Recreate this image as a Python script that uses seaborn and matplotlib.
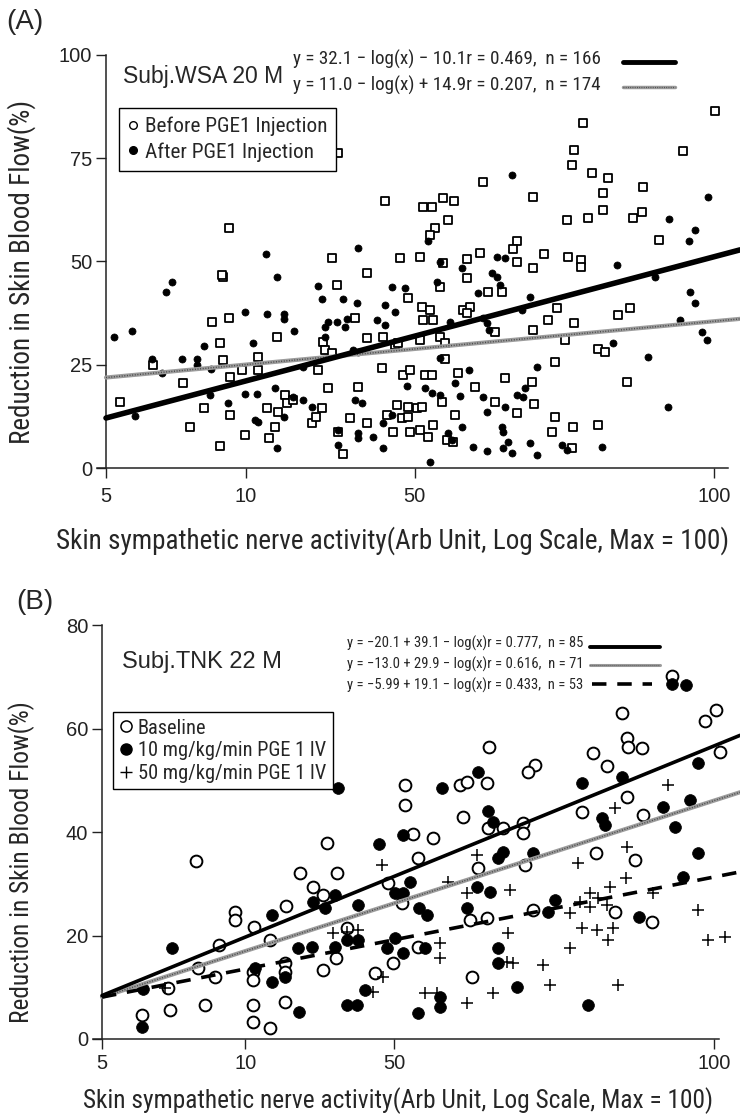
import numpy as np
import pandas as pd
import matplotlib
matplotlib.use("Agg")
import matplotlib.pyplot as plt
import seaborn as sns
from matplotlib.lines import Line2D
import matplotlib.font_manager as fm

# ---------------- data (x = position along the SSNA axis, 0 = "5", 100 = "100") ----------------
A_tick_pos = [0, 23.0, 50.8, 100]
B_tick_pos = [0, 23.4, 47.7, 100]
x_tick_labels = ["5", "10", "50", "100"]
A_y_ticks = [0, 25, 50, 75, 100]
B_y_ticks = [0, 20, 40, 60, 80]

A_after_x = [1.3,4.3,9.9,10.9,7.6,12.5,15.0,15.0,17.3,9.2,4.8,17.1,20.1,16.1,22.9,26.5,29.3,29.3,24.2,28.1,30.9,22.9,24.8,27.8,24.5,25.0,29.3,28.1,32.4,30.8,32.4,33.9,34.9,35.5,39.0,41.3,36.0,36.0,36.5,38.0,39.6,39.3,40.6,41.4,41.0,42.1,38.2,38.2,41.4,41.4,
             47.0,49.2,45.9,47.5,44.6,45.9,54.9,54.4,56.6,61.2,63.5,64.3,64.8,62.0,62.7,63.0,68.4,69.7,59.7,57.4,52.5,49.5,53.6,54.9,58.2,62.0,62.7,65.6,67.6,68.9,68.6,70.9,58.6,56.2,56.9,60.4,62.7,65.1,65.3,66.1,66.8,65.3,69.7,70.9,75.0,75.8,81.6,53.3,45.6,43.9,45.6,47.0,83.4,84.0,90.3,89.1,92.4,94.4,96.1,96.9,98.0,98.8,66.8,99.0,92.6,96.9,95.9,53.0,54.9,64.3,65.6,58.6,26.3,41.4]
A_after_y = [31.7,33.2,42.6,45.0,26.4,26.4,26.4,24.9,24.0,23.0,12.6,17.7,15.7,29.5,37.8,37.3,37.3,36.1,30.3,46.2,33.2,17.9,17.9,19.4,11.6,11.1,12.3,4.8,24.5,17.2,16.5,14.8,44.1,40.9,40.9,40.0,34.1,31.7,35.4,35.4,36.1,34.1,28.6,28.1,16.5,15.7,9.2,5.6,8.5,7.3,
             43.8,43.6,39.5,37.8,35.8,34.6,26.6,45.0,35.4,42.4,47.2,46.2,44.3,36.3,35.1,33.4,38.3,41.4,23.7,20.6,19.4,19.9,18.2,17.7,17.4,17.2,13.6,14.8,17.7,19.4,17.2,24.5,9.9,8.5,6.8,5.1,4.1,9.9,8.7,6.3,3.6,4.8,6.1,3.1,5.6,4.4,5.1,1.5,4.8,7.5,10.9,12.8,30.3,49.2,46.2,26.9,14.8,35.8,42.6,40.0,32.9,31.0,70.9,65.6,60.3,57.6,55.0,55.0,49.9,51.1,50.8,48.4,51.8,53.3]

A_before_x = [2.3,7.7,12.7,13.8,16.1,17.4,18.8,19.2,19.2,20.4,20.2,20.4,22.4,22.9,25.0,25.0,26.5,26.8,27.8,28.1,28.3,29.4,29.8,30.8,18.8,33.9,34.5,35.5,34.9,35.7,36.0,37.2,36.5,38.0,41.0,41.4,39.0,38.2,40.1,42.9,42.9,42.9,
              49.7,52.0,53.3,52.1,53.8,58.7,59.9,59.4,62.8,65.1,64.0,54.9,55.8,51.6,45.6,47.5,48.0,45.4,48.8,50.0,52.5,53.6,55.8,57.9,60.7,49.7,51.2,52.0,47.9,46.2,48.7,49.7,57.4,55.3,47.2,50.0,51.6,53.0,53.8,56.1,57.1,64.0,65.6,67.6,70.4,70.1,73.8,70.2,72.7,74.2,73.8,73.4,76.8,76.6,77.0,75.5,80.9,80.9,82.1,84.2,86.2,85.7,59.4,54.9,
              100.2,78.5,94.9,77.0,76.6,79.9,82.6,62.0,81.7,88.3,45.9,52.1,53.6,55.4,57.2,70.2,56.2,54.1,53.3,75.8,79.3,81.7,86.7,88.2,91.0,67.6,66.9,48.4,51.6,61.5,72.0,76.0,78.1,78.1,67.6,55.4,59.4,70.2,38.2,20.2,37.2,19.1]
A_before_y = [16.0,24.9,20.6,9.9,14.5,35.4,30.3,26.1,46.2,12.8,36.3,22.0,23.7,8.0,26.9,23.7,14.5,7.3,9.9,31.7,13.6,17.7,15.7,16.5,5.3,10.9,12.3,14.5,23.7,30.5,28.6,27.8,19.4,44.3,36.3,19.6,3.4,8.7,12.1,31.5,47.2,10.9,
              41.2,39.0,38.3,35.8,35.8,38.3,39.0,37.5,42.6,42.6,32.9,31.7,30.3,31.0,31.7,29.8,30.3,24.2,22.5,23.7,22.5,22.5,26.4,23.0,19.6,14.8,14.5,14.8,15.3,12.8,12.1,12.3,12.8,16.0,8.7,8.7,9.2,7.5,10.4,6.8,6.3,16.0,21.8,13.3,15.5,20.8,25.7,33.4,35.8,38.7,12.3,8.7,9.9,4.8,35.1,31.0,10.4,28.8,28.1,37.0,38.7,20.8,46.0,43.8,
              86.4,83.5,76.8,77.0,73.4,71.4,70.2,69.2,66.6,68.0,64.6,63.2,63.2,65.4,64.6,65.6,60.0,58.1,56.4,60.0,60.5,62.5,60.5,62.0,55.2,55.0,53.0,50.8,51.1,52.1,51.8,51.1,50.4,48.7,49.9,49.6,50.6,48.4,76.3,58.1,50.8,46.7]

A_fit_x = [0, 104.3]
A_after_fit_y = [12.1, 52.8]
A_before_fit_y = [21.9, 36.1]

B_base_x = [93.1,85.0,100.2,98.5,63.2,85.8,85.9,88.2,80.2,82.4,101.0,70.8,69.6,49.5,49.5,58.5,59.6,62.9,85.8,78.4,88.4,59.0,63.1,65.5,68.8,68.8,50.8,54.1,36.8,15.4,32.4,38.4,34.5,36.1,30.1,21.7,21.7,24.8,27.5,19.1,40.0,38.2,36.1,29.9,29.9,24.7,24.7,18.5,15.7,44.6,6.5,11.1,16.8,24.7,24.7,27.5,29.9,10.8,51.6,61.4,69.1,49.0,46.7,80.6,87.1,70.4,60.1,62.9,83.8,89.9,51.6,47.5,60.5]
B_base_y = [70.1,63.0,63.6,61.5,56.4,58.2,56.4,56.2,55.3,52.8,55.5,52.9,51.6,49.1,45.2,49.1,49.7,49.5,46.8,43.9,43.3,42.9,40.8,40.8,41.7,39.8,39.6,38.8,37.9,34.4,32.1,32.1,29.4,27.8,25.7,24.5,23.0,21.6,19.1,18.2,21.4,15.7,13.3,14.7,12.9,12.9,11.4,12.0,13.7,12.8,4.6,5.6,6.6,6.6,3.3,2.1,7.1,9.9,35.0,33.0,33.6,26.3,30.1,35.9,34.6,24.9,23.0,23.4,24.5,22.6,17.8,14.7,12.0]

B_10_x = [38.6,93.1,95.3,61.4,55.6,78.4,85.0,97.4,96.1,91.7,93.6,63.1,63.9,81.7,82.2,49.2,45.3,11.4,27.8,34.5,36.4,38.1,41.8,32.0,34.3,38.1,40.0,41.8,25.0,27.8,29.9,6.7,6.5,32.2,40.0,41.7,43.0,97.4,94.9,65.5,64.7,70.4,50.3,47.9,49.2,61.3,63.4,51.8,53.1,59.6,74.0,72.9,87.7,47.9,46.6,49.2,52.8,64.7,64.7,67.8,55.2,55.2,51.6,79.3]
B_10_y = [48.5,68.6,68.4,51.6,48.5,49.5,50.6,53.3,46.2,44.8,41.0,44.1,41.9,42.7,41.4,39.4,37.7,17.6,24.0,26.5,25.3,27.8,25.9,17.6,17.8,17.8,19.1,19.1,13.7,11.0,12.0,9.7,2.3,5.2,6.6,6.6,9.5,35.9,31.3,36.1,35.0,35.9,30.3,28.2,28.2,29.4,28.4,25.3,24.0,25.3,26.9,24.5,23.6,19.5,17.6,16.6,17.6,17.6,14.7,10.0,8.1,6.2,5.0,6.6]

B_50_x = [92.5,83.8,37.8,40.0,41.8,10.3,61.3,45.8,56.5,59.6,66.7,77.8,83.0,85.5,79.7,81.0,78.1,79.7,82.5,76.5,90.0,85.8,97.4,78.4,80.9,83.5,82.7,66.3,76.5,55.2,55.2,98.9,101.8,66.2,67.2,72.1,45.9,73.2,84.3,52.8,54.7,63.9,59.6,44.3]
B_50_y = [49.1,44.6,20.5,20.7,21.1,9.9,35.6,33.6,30.3,28.2,28.8,34.0,29.4,31.1,28.2,27.2,26.5,25.5,25.9,24.3,28.2,37.1,24.9,21.4,21.1,21.4,19.1,20.5,17.6,18.6,15.7,19.1,19.7,14.9,14.7,14.3,12.0,10.4,10.4,8.9,8.9,8.9,7.0,9.1]

B_fit_x = [0, 104.2]
B_base_fit_y = [8.4, 58.7]
B_10_fit_y = [8.1, 47.7]
B_50_fit_y = [8.1, 32.3]

A_eqs = ["y = 32.1 \u2212 log(x) \u2212 10.1r = 0.469,  n = 166",
         "y = 11.0 \u2212 log(x) + 14.9r = 0.207,  n = 174"]
B_eqs = ["y = \u221220.1 + 39.1 \u2212 log(x)r = 0.777,  n = 85",
         "y = \u221213.0 + 29.9 \u2212 log(x)r = 0.616,  n = 71",
         "y = \u22125.99 + 19.1 \u2212 log(x)r = 0.433,  n = 53"]
A_legend = ["Before PGE1 Injection", "After PGE1 Injection"]
B_legend = ["Baseline", "10 mg/kg/min PGE 1 IV", "50 mg/kg/min PGE 1 IV"]
x_label = "Skin sympathetic nerve activity(Arb Unit, Log Scale, Max = 100)"
y_label = "Reduction in Skin Blood Flow(%)"

# ---------------- style ----------------
sns.set_style("ticks")
avail = {f.name for f in fm.fontManager.ttflist}
def pick(*c):
    for n in c:
        if n in avail:
            return n
    return "DejaVu Sans"
REG = pick("Liberation Sans", "Arial", "DejaVu Sans")
NAR = pick("Liberation Sans Narrow", "Arial Narrow", "Roboto Condensed", "DejaVu Sans Condensed", REG)
plt.rcParams["font.family"] = [REG, "DejaVu Sans"]
NARF = [NAR, REG, "DejaVu Sans"]

W, H = 740, 1120
fig = plt.figure(figsize=(W / 100, H / 100), dpi=100)
fx = lambda px: px / W
fy = lambda py: 1 - py / H

def hatched(ax, x, y, lw=3.0):
    sns.lineplot(x=x, y=y, ax=ax, color="#9c9c9c", lw=lw, estimator=None, sort=False, zorder=5)
    ax.plot(x, y, color="#4a4a4a", lw=lw * 0.35, ls=(0, (0.7, 1.1)), zorder=6)

def fig_line(x0, x1, y, **kw):
    fig.add_artist(Line2D([fx(x0), fx(x1)], [fy(y), fy(y)], transform=fig.transFigure, **kw))

def setup_axis(ax, xlim, ylim, xticks, yticks, ybound, xbound_right, xpad):
    ax.set_xlim(*xlim)
    ax.set_ylim(*ylim)
    sns.despine(ax=ax)
    ax.spines["left"].set_position(("data", 0))
    ax.spines["left"].set_bounds(0, ybound)
    ax.spines["bottom"].set_bounds(xlim[0], xbound_right)
    for s in ("left", "bottom"):
        ax.spines[s].set_linewidth(1.1)
        ax.spines[s].set_color("#222222")
    ax.set_xticks(xticks)
    ax.set_xticklabels(x_tick_labels)
    ax.set_yticks(yticks)
    ax.tick_params(axis="both", direction="out", length=7, width=1.0, labelsize=14.5, colors="#222222")
    ax.tick_params(axis="x", pad=xpad)
    ax.tick_params(axis="y", pad=3)
    ax.set_xlabel("")
    ax.set_ylabel("")
    ax.patch.set_alpha(0)

# ---------------- panel A ----------------
axA = fig.add_axes([fx(97), fy(468), fx(740) - fx(97), (468 - 40) / H])
sns.scatterplot(x=A_before_x, y=A_before_y, ax=axA, marker="s", s=30, color="white",
                edgecolor="black", linewidth=1.3, legend=False, zorder=3)
sns.scatterplot(x=A_after_x, y=A_after_y, ax=axA, marker="o", s=26, color="black",
                edgecolor="black", linewidth=0.5, legend=False, zorder=4)
hatched(axA, A_fit_x, A_before_fit_y, lw=3.0)
sns.lineplot(x=A_fit_x, y=A_after_fit_y, ax=axA, color="black", lw=4.0, estimator=None, sort=False, zorder=7)
setup_axis(axA, (-1.48, 104.3), (0, 103.6), A_tick_pos, A_y_ticks, 100, 102.3, 7)

fig.text(fx(6), fy(22), "(A)", fontsize=20, va="center", ha="left")
fig.text(fx(123), fy(77), "Subj.WSA 20 M", fontsize=16.5, va="center", ha="left")
for i, t in enumerate(A_eqs):
    fig.text(fx(293), fy(59 + 26 * i), t, fontsize=13.8, family=NARF, va="center", ha="left")
fig_line(623, 675, 62, color="black", lw=3.5)
fig_line(623, 675, 87, color="#9c9c9c", lw=2.5)
fig_line(623, 675, 87, color="#4a4a4a", lw=0.9, ls=(0, (0.7, 1.1)))

hA = [Line2D([], [], ls="", marker="o", ms=5.5, mfc="white", mec="black", mew=1.0),
      Line2D([], [], ls="", marker="o", ms=5.5, mfc="black", mec="black")]
legA = axA.legend(hA, A_legend, loc="upper left", bbox_to_anchor=(fx(119), fy(108)),
                  bbox_transform=fig.transFigure, frameon=True, fancybox=False, framealpha=1,
                  edgecolor="black", prop={"family": NARF, "size": 15.3}, handlelength=0.5,
                  handletextpad=0.3, borderpad=0.42, labelspacing=0.28, borderaxespad=0)
legA.get_frame().set_linewidth(1.0)

fig.text(fx(393), fy(541), x_label, fontsize=19.5, family=NARF, ha="center", va="center")
fig.text(fx(22), fy(272), y_label, fontsize=19.5, family=NARF, ha="center", va="center", rotation=90)

# ---------------- panel B ----------------
axB = fig.add_axes([fx(93), fy(1039), fx(740) - fx(93), (1039 - 605) / H])
sns.scatterplot(x=B_base_x, y=B_base_y, ax=axB, marker="o", s=72, color="white",
                edgecolor="black", linewidth=1.4, legend=False, zorder=3)
sns.scatterplot(x=B_10_x, y=B_10_y, ax=axB, marker="o", s=72, color="black",
                edgecolor="black", linewidth=0.5, legend=False, zorder=4)
sns.scatterplot(x=B_50_x, y=B_50_y, ax=axB, marker="+", s=80, color="black",
                linewidth=1.1, legend=False, zorder=4)
sns.lineplot(x=B_fit_x, y=B_base_fit_y, ax=axB, color="black", lw=2.6, estimator=None, sort=False, zorder=7)
hatched(axB, B_fit_x, B_10_fit_y, lw=3.0)
axB.plot(B_fit_x, B_50_fit_y, color="black", lw=2.6, ls=(0, (4, 3)), zorder=7)
setup_axis(axB, (-1.47, 104.2), (0, 83.9), B_tick_pos, B_y_ticks, 80, 100.8, 3.5)

fig.text(fx(16), fy(602), "(B)", fontsize=20, va="center", ha="left")
fig.text(fx(122), fy(662), "Subj.TNK 22 M", fontsize=17, va="center", ha="left")
for i, t in enumerate(B_eqs):
    fig.text(fx(347), fy(643 + 21 * i), t, fontsize=10.5, family=NARF, va="center", ha="left")
fig_line(590, 660, 647, color="black", lw=2.8)
fig_line(590, 660, 665, color="#9c9c9c", lw=2.2)
fig_line(590, 660, 665, color="#4a4a4a", lw=0.8, ls=(0, (0.7, 1.1)))
fig_line(592, 652, 684, color="black", lw=2.6, ls=(0, (4, 3)))

hB = [Line2D([], [], ls="", marker="o", ms=8, mfc="white", mec="black", mew=1.1),
      Line2D([], [], ls="", marker="o", ms=8, mfc="black", mec="black"),
      Line2D([], [], ls="", marker="+", ms=9, color="black", mew=1.0)]
legB = axB.legend(hB, B_legend, loc="upper left", bbox_to_anchor=(fx(113), fy(712)),
                  bbox_transform=fig.transFigure, frameon=True, fancybox=False, framealpha=1,
                  edgecolor="black", prop={"family": NARF, "size": 14.7}, handlelength=0.6,
                  handletextpad=0.3, borderpad=0.32, labelspacing=0.18, borderaxespad=0)
legB.get_frame().set_linewidth(1.0)

fig.text(fx(398), fy(1101), x_label, fontsize=18.3, family=NARF, ha="center", va="center")
fig.text(fx(22), fy(862), y_label, fontsize=18.3, family=NARF, ha="center", va="center", rotation=90)

fig.savefig("out.png", dpi=100, facecolor="white")
